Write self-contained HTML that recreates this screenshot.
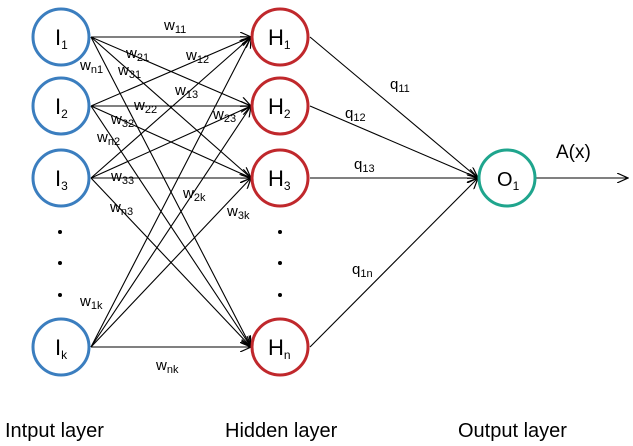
<!DOCTYPE html>
<html><head><meta charset="utf-8"><style>
body{margin:0;background:#fff}
svg{display:block}
text{font-family:"Liberation Sans",sans-serif;fill:#000}
.w{font-size:15px}
.w .s{font-size:11px}
.n{font-size:22px}
.n .s{font-size:12px}
</style></head><body>
<svg width="633" height="446" viewBox="0 0 633 446">
<defs>
<marker id="a" markerWidth="12" markerHeight="10" refX="11" refY="5" orient="auto" markerUnits="userSpaceOnUse">
<path d="M0,0 L11,5 L0,10" fill="none" stroke="#000" stroke-width="1.2"/>
</marker>
</defs>
<g stroke="#000" stroke-width="1.1" marker-end="url(#a)">
<line x1="91" y1="37" x2="251" y2="37"/><line x1="91" y1="37" x2="251" y2="106"/><line x1="91" y1="37" x2="251" y2="178"/><line x1="91" y1="37" x2="251" y2="347"/>
<line x1="91" y1="106" x2="251" y2="37"/><line x1="91" y1="106" x2="251" y2="106"/><line x1="91" y1="106" x2="251" y2="178"/><line x1="91" y1="106" x2="251" y2="347"/>
<line x1="91" y1="178" x2="251" y2="37"/><line x1="91" y1="178" x2="251" y2="106"/><line x1="91" y1="178" x2="251" y2="178"/><line x1="91" y1="178" x2="251" y2="347"/>
<line x1="91" y1="347" x2="251" y2="37"/><line x1="91" y1="347" x2="251" y2="106"/><line x1="91" y1="347" x2="251" y2="178"/><line x1="91" y1="347" x2="251" y2="347"/>
<line x1="310" y1="37" x2="478" y2="178"/><line x1="310" y1="106" x2="478" y2="178"/><line x1="310" y1="178" x2="478" y2="178"/><line x1="310" y1="347" x2="478" y2="178"/>
<line x1="535" y1="178" x2="628" y2="178"/>
</g>
<g fill="#fff" stroke-width="3">
<circle cx="61" cy="37" r="28" stroke="#3b7ebf"/><circle cx="61" cy="106" r="28" stroke="#3b7ebf"/><circle cx="61" cy="178" r="28" stroke="#3b7ebf"/><circle cx="61" cy="347" r="28" stroke="#3b7ebf"/>
<circle cx="280" cy="37" r="28" stroke="#c0282c"/><circle cx="280" cy="106" r="28" stroke="#c0282c"/><circle cx="280" cy="178" r="28" stroke="#c0282c"/><circle cx="280" cy="347" r="28" stroke="#c0282c"/>
<circle cx="507" cy="178" r="28" stroke="#1fa58d"/>
</g>
<g fill="#000">
<circle cx="60" cy="232" r="2"/><circle cx="60" cy="263" r="2"/><circle cx="60" cy="295" r="2"/>
<circle cx="280" cy="232" r="2"/><circle cx="280" cy="263" r="2"/><circle cx="280" cy="295" r="2"/>
</g>
<g class="n">
<text x="55" y="45">I<tspan class="s" dy="4">1</tspan></text>
<text x="55" y="114">I<tspan class="s" dy="4">2</tspan></text>
<text x="55" y="186">I<tspan class="s" dy="4">3</tspan></text>
<text x="55" y="355">I<tspan class="s" dy="4">k</tspan></text>
<text x="268" y="45">H<tspan class="s" dy="4">1</tspan></text>
<text x="268" y="114">H<tspan class="s" dy="4">2</tspan></text>
<text x="268" y="186">H<tspan class="s" dy="4">3</tspan></text>
<text x="268" y="355">H<tspan class="s" dy="4">n</tspan></text>
<text x="497" y="186" style="font-size:20px">O<tspan class="s" dy="4">1</tspan></text>
<text x="556" y="158" style="font-size:19px">A(x)</text>
</g>
<g class="w">
<text x="164" y="30">w<tspan class="s" dy="3">11</tspan></text>
<text x="126" y="58">w<tspan class="s" dy="3">21</tspan></text>
<text x="80" y="70">w<tspan class="s" dy="3">n1</tspan></text>
<text x="118" y="75">w<tspan class="s" dy="3">31</tspan></text>
<text x="186" y="60">w<tspan class="s" dy="3">12</tspan></text>
<text x="175" y="95">w<tspan class="s" dy="3">13</tspan></text>
<text x="134" y="110">w<tspan class="s" dy="3">22</tspan></text>
<text x="111" y="124">w<tspan class="s" dy="3">32</tspan></text>
<text x="97" y="142">w<tspan class="s" dy="3">n2</tspan></text>
<text x="213" y="119">w<tspan class="s" dy="3">23</tspan></text>
<text x="111" y="181">w<tspan class="s" dy="3">33</tspan></text>
<text x="110" y="212">w<tspan class="s" dy="3">n3</tspan></text>
<text x="183" y="198">w<tspan class="s" dy="3">2k</tspan></text>
<text x="227" y="216">w<tspan class="s" dy="3">3k</tspan></text>
<text x="80" y="306">w<tspan class="s" dy="3">1k</tspan></text>
<text x="156" y="370">w<tspan class="s" dy="3">nk</tspan></text>
<text x="390" y="89">q<tspan class="s" dy="3">11</tspan></text>
<text x="345" y="118">q<tspan class="s" dy="3">12</tspan></text>
<text x="354" y="169">q<tspan class="s" dy="3">13</tspan></text>
<text x="352" y="274">q<tspan class="s" dy="3">1n</tspan></text>
</g>
<g style="font-size:20px">
<text x="5" y="437">Intput layer</text>
<text x="225" y="437">Hidden layer</text>
<text x="458" y="437">Output layer</text>
</g>
</svg>
</body></html>
